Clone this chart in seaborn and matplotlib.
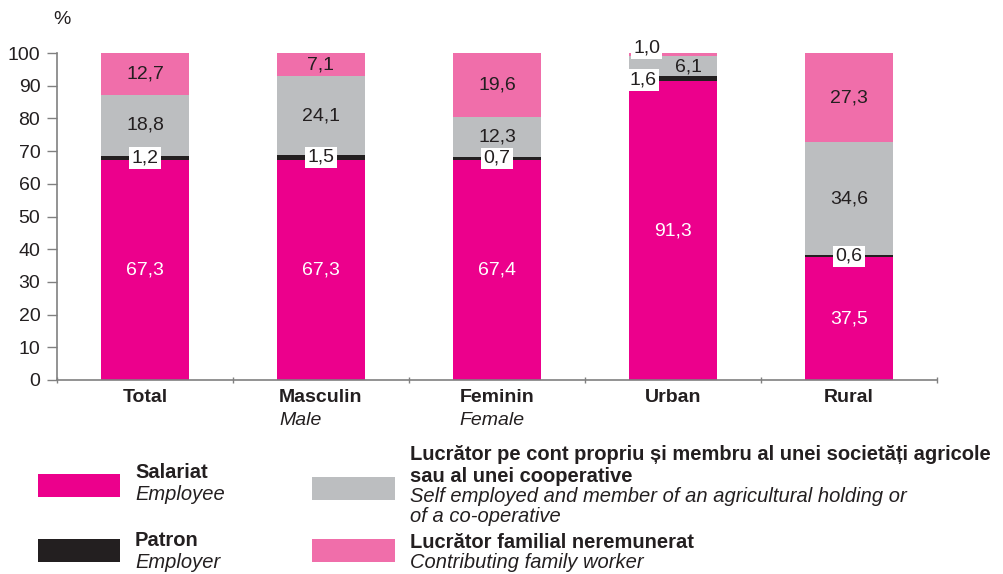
import matplotlib
matplotlib.use("Agg")
import matplotlib.pyplot as plt
from matplotlib.patches import Rectangle
import seaborn as sns
import pandas as pd
import numpy as np

categories = ["Total", "Masculin", "Feminin", "Urban", "Rural"]
categories_en = ["", "Male", "Female", "", ""]
salariat = [67.3, 67.3, 67.4, 91.3, 37.5]
patron = [1.2, 1.5, 0.7, 1.6, 0.6]
cont_propriu = [18.8, 24.1, 12.3, 6.1, 34.6]
familial = [12.7, 7.1, 19.6, 1.0, 27.3]
yticks = [0, 10, 20, 30, 40, 50, 60, 70, 80, 90, 100]

C_SAL = "#EC008C"
C_PAT = "#231F20"
C_CONT = "#BCBEC0"
C_FAM = "#F06EAA"
TXT = "#231F20"

sns.set_style("ticks")
plt.rcParams["font.family"] = ["Liberation Sans", "DejaVu Sans"]

W, H = 1004, 574
fig = plt.figure(figsize=(W / 100, H / 100), dpi=100)
ax = fig.add_axes([57 / W, 1 - 380 / H, (937 - 57) / W, (380 - 53) / H])

s = np.array(salariat)
p = np.array(patron)
c = np.array(cont_propriu)
f = np.array(familial)
layers = [
    (s + p + c + f, C_FAM),
    (s + p + c, C_CONT),
    (s + p, C_PAT),
    (s, C_SAL),
]
for vals, col in layers:
    df = pd.DataFrame({"cat": categories, "val": vals})
    sns.barplot(data=df, x="cat", y="val", order=categories, color=col,
                saturation=1, width=0.5, linewidth=0, ax=ax, errorbar=None)

fs = 14
fsl = 14.5
ax.set_ylim(0, 100)
ax.set_xlim(-0.5, 4.5)
ax.set_yticks(yticks)
ax.set_yticklabels([str(t) for t in yticks], fontsize=fs, color=TXT)
ax.set_xticks([-0.5, 0.5, 1.5, 2.5, 3.5, 4.5])
ax.set_xticklabels([])
ax.tick_params(axis="y", length=7, width=1, color="#808080", pad=5)
ax.tick_params(axis="x", length=4, width=1, color="#808080", direction="inout")
ax.set_xlabel("")
ax.set_ylabel("")
for sp in ["top", "right"]:
    ax.spines[sp].set_visible(False)
for sp in ["left", "bottom"]:
    ax.spines[sp].set_color("#808080")
    ax.spines[sp].set_linewidth(1.2)

fig.text(62 / W, 1 - 20 / H, "%", fontsize=fs, color=TXT, ha="center", va="center")

def fmt(v):
    return f"{v:.1f}".replace(".", ",")

box = dict(boxstyle="square,pad=0.12", fc="white", ec="none")
for i in range(5):
    ax.text(i, s[i] / 2, fmt(s[i]), ha="center", va="center", color="white", fontsize=fs)
    if categories[i] != "Urban":
        ax.text(i, s[i] + c[i] / 2 + p[i], fmt(c[i]), ha="center", va="center", color=TXT, fontsize=fs)
        ax.text(i, s[i] + p[i] + c[i] + f[i] / 2, fmt(f[i]), ha="center", va="center", color=TXT, fontsize=fs)
        ax.text(i, s[i] + p[i] / 2, fmt(p[i]), ha="center", va="center", color=TXT, fontsize=fs, bbox=box)
    else:
        ax.text(i + 0.09, s[i] + p[i] + c[i] / 2 - 0.3, fmt(c[i]), ha="center", va="center", color=TXT, fontsize=fs)
        ax.text(i - 0.15, 101.5, fmt(f[i]), ha="center", va="center", color=TXT, fontsize=fs, bbox=box)
        ax.text(i - 0.17, 91.7, fmt(p[i]), ha="center", va="center", color=TXT, fontsize=fs, bbox=box)

fig.canvas.draw()
renderer = fig.canvas.get_renderer()
for i, cat in enumerate(categories):
    t = ax.text(i, -5.3, cat, ha="center", va="center", fontsize=fs, fontweight="bold", color=TXT)
    if categories_en[i]:
        bb = t.get_window_extent(renderer=renderer)
        x0 = ax.transData.inverted().transform((bb.x0, 0))[0]
        ax.text(x0, -12.4, categories_en[i], ha="left", va="center", fontsize=fs, style="italic", color=TXT)

def swatch(x0, y0, x1, y1, col):
    fig.add_artist(Rectangle((x0 / W, 1 - y1 / H), (x1 - x0) / W, (y1 - y0) / H,
                             transform=fig.transFigure, fc=col, ec="none"))

def ltext(x, y, txt, bold=False):
    fig.text(x / W, 1 - y / H, txt, ha="left", va="center", fontsize=fsl, color=TXT,
             fontweight="bold" if bold else "normal", style="normal" if bold else "italic")

swatch(38, 474, 120, 497, C_SAL)
swatch(38, 539, 120, 562, C_PAT)
swatch(312, 477, 395, 500, C_CONT)
swatch(312, 539, 395, 562, C_FAM)

ltext(135, 472, "Salariat", True)
ltext(135, 494, "Employee")
ltext(135, 541, "Patron", True)
ltext(135, 562, "Employer")
ltext(410, 455, "Lucrător pe cont propriu și membru al unei societăți agricole", True)
ltext(410, 476, "sau al unei cooperative", True)
ltext(410, 497, "Self employed and member of an agricultural holding or")
ltext(410, 517, "of a co-operative")
ltext(410, 543, "Lucrător familial neremunerat", True)
ltext(410, 563, "Contributing family worker")

fig.savefig("out.png", dpi=100)
